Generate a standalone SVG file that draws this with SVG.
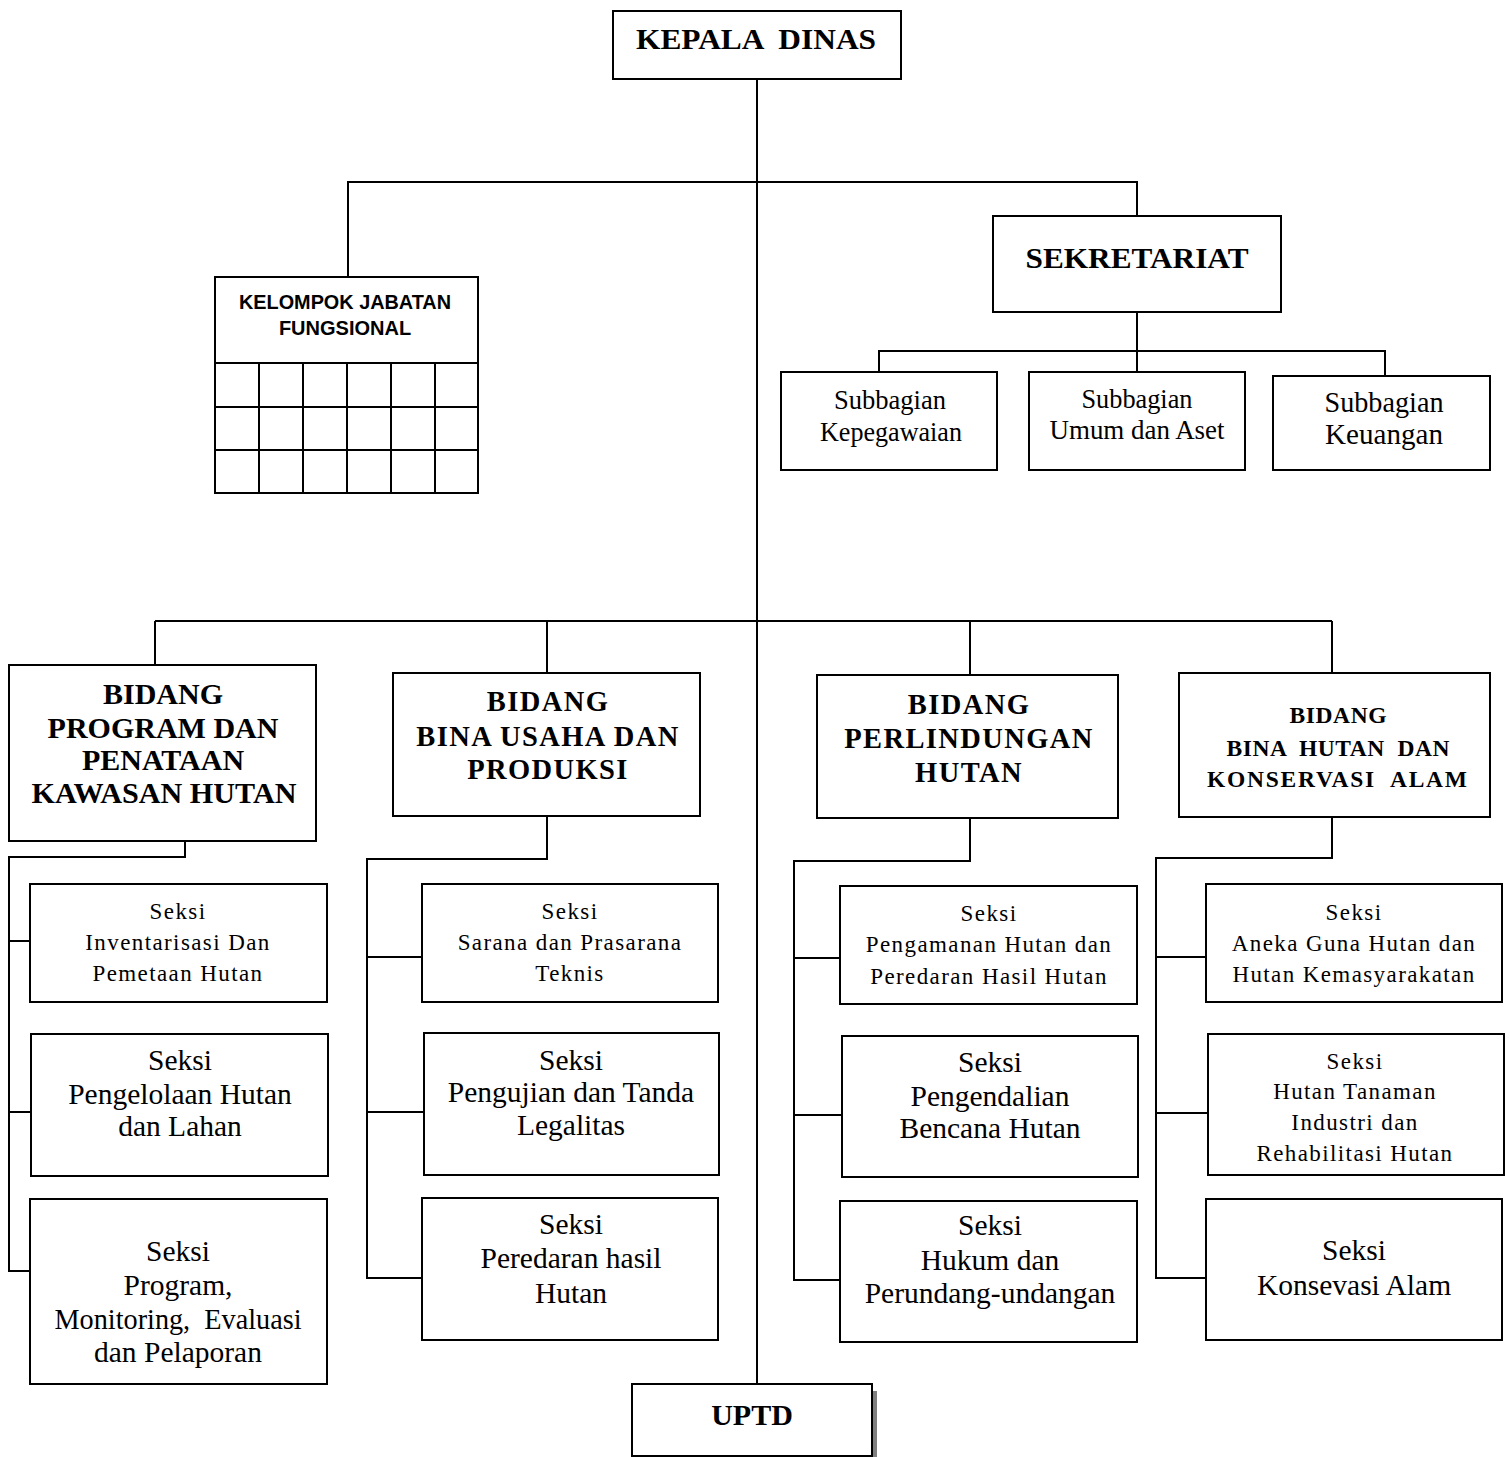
<svg xmlns="http://www.w3.org/2000/svg" width="1510" height="1457" viewBox="0 0 1510 1457">
  <style>
    .box { fill: #fff; stroke: #000; stroke-width: 2; }
    .wire { fill: none; stroke: #000; stroke-width: 2; }
    .t { font-family: "Liberation Serif", "Times New Roman", serif; text-anchor: middle; fill: #000; }
    .hb { font-weight: bold; font-size: 30px; }
    .b1 { font-weight: bold; font-size: 30px; }
    .b2 { font-weight: bold; font-size: 28.5px; letter-spacing: 1.4px; }
    .b4 { font-weight: bold; font-size: 23.5px; }
    .sm { font-size: 23px; letter-spacing: 1.4px; }
    .lg { font-size: 29.5px; }
    .sub { font-size: 28px; }
    .sub3 { font-size: 30px; }
    .sans { font-family: "Liberation Sans", Arial, sans-serif; font-weight: bold; font-size: 20px; text-anchor: middle; }
  </style>

  <!-- connectors -->
  <g id="connectors">
    <!-- trunk from the head down to UPTD -->
    <line class="wire" x1="757" y1="79" x2="757" y2="1384"/>
    <!-- staff level -->
    <polyline class="wire" points="348,277 348,182 1137,182 1137,216"/>
    <!-- secretariat to subsections -->
    <line class="wire" x1="1137" y1="312" x2="1137" y2="372"/>
    <polyline class="wire" points="879,372 879,351 1385,351 1385,376"/>
    <!-- division bus -->
    <line class="wire" x1="155" y1="621" x2="1332" y2="621"/>
    <line class="wire" x1="155" y1="621" x2="155" y2="665"/>
    <line class="wire" x1="547" y1="621" x2="547" y2="673"/>
    <line class="wire" x1="970" y1="621" x2="970" y2="675"/>
    <line class="wire" x1="1332" y1="621" x2="1332" y2="673"/>
    <!-- division 1 sections -->
    <polyline class="wire" points="185,841 185,857 9,857 9,1271 30,1271"/>
    <line class="wire" x1="9" y1="941" x2="30" y2="941"/>
    <line class="wire" x1="9" y1="1112" x2="31" y2="1112"/>
    <!-- division 2 sections -->
    <polyline class="wire" points="547,816 547,859 367,859 367,1278 422,1278"/>
    <line class="wire" x1="367" y1="957" x2="422" y2="957"/>
    <line class="wire" x1="367" y1="1112" x2="424" y2="1112"/>
    <!-- division 3 sections -->
    <polyline class="wire" points="970,818 970,861 794,861 794,1280 840,1280"/>
    <line class="wire" x1="794" y1="958" x2="840" y2="958"/>
    <line class="wire" x1="794" y1="1115" x2="842" y2="1115"/>
    <!-- division 4 sections -->
    <polyline class="wire" points="1332,817 1332,858 1156,858 1156,1278 1206,1278"/>
    <line class="wire" x1="1156" y1="957" x2="1206" y2="957"/>
    <line class="wire" x1="1156" y1="1113" x2="1208" y2="1113"/>
  </g>

  <!-- head -->
  <g id="kepala-dinas">
    <rect class="box" x="613" y="11" width="288" height="68"/>
    <text class="t hb" x="756" y="49" xml:space="preserve" textLength="240" lengthAdjust="spacingAndGlyphs">KEPALA  DINAS</text>
  </g>

  <!-- functional group with grid -->
  <g id="kelompok-jabatan-fungsional">
    <rect class="box" x="215" y="277" width="263" height="216"/>
    <path class="wire" d="M215 363H478M215 407H478M215 450H478M259 363V493M303 363V493M347 363V493M391 363V493M435 363V493"/>
    <text class="sans" x="345" y="309" textLength="212" lengthAdjust="spacingAndGlyphs">KELOMPOK JABATAN</text>
    <text class="sans" x="345" y="335">FUNGSIONAL</text>
  </g>

  <g id="sekretariat">
    <rect class="box" x="993" y="216" width="288" height="96"/>
    <text class="t hb" x="1137" y="268" font-size="32" textLength="223" lengthAdjust="spacingAndGlyphs">SEKRETARIAT</text>
  </g>

  <g id="subbagian-kepegawaian">
    <rect class="box" x="781" y="372" width="216" height="98"/>
    <text class="t sub" x="890" y="409" textLength="112" lengthAdjust="spacingAndGlyphs">Subbagian</text>
    <text class="t sub" x="891" y="441" textLength="142" lengthAdjust="spacingAndGlyphs">Kepegawaian</text>
  </g>
  <g id="subbagian-umum-aset">
    <rect class="box" x="1029" y="372" width="216" height="98"/>
    <text class="t sub" x="1137" y="408" textLength="111" lengthAdjust="spacingAndGlyphs">Subbagian</text>
    <text class="t sub" x="1137" y="439" textLength="175" lengthAdjust="spacingAndGlyphs">Umum dan Aset</text>
  </g>
  <g id="subbagian-keuangan">
    <rect class="box" x="1273" y="376" width="217" height="94"/>
    <text class="t sub3" x="1384" y="412" textLength="119" lengthAdjust="spacingAndGlyphs">Subbagian</text>
    <text class="t sub3" x="1384" y="444" textLength="118" lengthAdjust="spacingAndGlyphs">Keuangan</text>
  </g>

  <!-- divisions -->
  <g id="bidang-program">
    <rect class="box" x="9" y="665" width="307" height="176"/>
    <text class="t b1" x="163" y="704">BIDANG</text>
    <text class="t b1" x="163" y="738">PROGRAM DAN</text>
    <text class="t b1" x="163" y="770">PENATAAN</text>
    <text class="t b1" x="164" y="803" textLength="265" lengthAdjust="spacingAndGlyphs">KAWASAN HUTAN</text>
  </g>
  <g id="bidang-bina-usaha">
    <rect class="box" x="393" y="673" width="307" height="143"/>
    <text class="t b2" x="548" y="711">BIDANG</text>
    <text class="t b2" x="548" y="746">BINA USAHA DAN</text>
    <text class="t b2" x="548" y="779">PRODUKSI</text>
  </g>
  <g id="bidang-perlindungan">
    <rect class="box" x="817" y="675" width="301" height="143"/>
    <text class="t b2" x="969" y="714">BIDANG</text>
    <text class="t b2" x="969" y="748">PERLINDUNGAN</text>
    <text class="t b2" x="969" y="782">HUTAN</text>
  </g>
  <g id="bidang-bina-hutan">
    <rect class="box" x="1179" y="673" width="311" height="144"/>
    <text class="t b4" x="1338" y="723" textLength="97" lengthAdjust="spacing">BIDANG</text>
    <text class="t b4" x="1338" y="756" xml:space="preserve" textLength="223" lengthAdjust="spacing">BINA  HUTAN  DAN</text>
    <text class="t b4" x="1337" y="787" xml:space="preserve" textLength="260" lengthAdjust="spacing">KONSERVASI  ALAM</text>
  </g>

  <!-- sections, division 1 -->
  <g id="seksi-inventarisasi">
    <rect class="box" x="30" y="884" width="297" height="118"/>
    <text class="t sm" x="178" y="919">Seksi</text>
    <text class="t sm" x="178" y="950">Inventarisasi Dan</text>
    <text class="t sm" x="178" y="981">Pemetaan Hutan</text>
  </g>
  <g id="seksi-pengelolaan">
    <rect class="box" x="31" y="1034" width="297" height="142"/>
    <text class="t lg" x="180" y="1070">Seksi</text>
    <text class="t lg" x="180" y="1104">Pengelolaan Hutan</text>
    <text class="t lg" x="180" y="1136">dan Lahan</text>
  </g>
  <g id="seksi-program">
    <rect class="box" x="30" y="1199" width="297" height="185"/>
    <text class="t lg" x="178" y="1261">Seksi</text>
    <text class="t lg" x="178" y="1295">Program,</text>
    <text class="t lg" x="178" y="1329" xml:space="preserve" textLength="247" lengthAdjust="spacingAndGlyphs">Monitoring,  Evaluasi</text>
    <text class="t lg" x="178" y="1362">dan Pelaporan</text>
  </g>

  <!-- sections, division 2 -->
  <g id="seksi-sarana">
    <rect class="box" x="422" y="884" width="296" height="118"/>
    <text class="t sm" x="570" y="919">Seksi</text>
    <text class="t sm" x="570" y="950">Sarana dan Prasarana</text>
    <text class="t sm" x="570" y="981">Teknis</text>
  </g>
  <g id="seksi-pengujian">
    <rect class="box" x="424" y="1033" width="295" height="142"/>
    <text class="t lg" x="571" y="1070">Seksi</text>
    <text class="t lg" x="571" y="1102">Pengujian dan Tanda</text>
    <text class="t lg" x="571" y="1135">Legalitas</text>
  </g>
  <g id="seksi-peredaran">
    <rect class="box" x="422" y="1198" width="296" height="142"/>
    <text class="t lg" x="571" y="1234">Seksi</text>
    <text class="t lg" x="571" y="1268">Peredaran hasil</text>
    <text class="t lg" x="571" y="1303">Hutan</text>
  </g>

  <!-- sections, division 3 -->
  <g id="seksi-pengamanan">
    <rect class="box" x="840" y="886" width="297" height="118"/>
    <text class="t sm" x="989" y="921">Seksi</text>
    <text class="t sm" x="989" y="952">Pengamanan Hutan dan</text>
    <text class="t sm" x="989" y="984">Peredaran Hasil Hutan</text>
  </g>
  <g id="seksi-pengendalian">
    <rect class="box" x="842" y="1036" width="296" height="141"/>
    <text class="t lg" x="990" y="1072">Seksi</text>
    <text class="t lg" x="990" y="1106">Pengendalian</text>
    <text class="t lg" x="990" y="1138">Bencana Hutan</text>
  </g>
  <g id="seksi-hukum">
    <rect class="box" x="840" y="1201" width="297" height="141"/>
    <text class="t lg" x="990" y="1235">Seksi</text>
    <text class="t lg" x="990" y="1270">Hukum dan</text>
    <text class="t lg" x="990" y="1303">Perundang-undangan</text>
  </g>

  <!-- sections, division 4 -->
  <g id="seksi-aneka-guna">
    <rect class="box" x="1206" y="884" width="296" height="118"/>
    <text class="t sm" x="1354" y="920">Seksi</text>
    <text class="t sm" x="1354" y="951">Aneka Guna Hutan dan</text>
    <text class="t sm" x="1354" y="982">Hutan Kemasyarakatan</text>
  </g>
  <g id="seksi-hutan-tanaman">
    <rect class="box" x="1208" y="1034" width="296" height="141"/>
    <text class="t sm" x="1355" y="1069">Seksi</text>
    <text class="t sm" x="1355" y="1099">Hutan Tanaman</text>
    <text class="t sm" x="1355" y="1130">Industri dan</text>
    <text class="t sm" x="1355" y="1161">Rehabilitasi Hutan</text>
  </g>
  <g id="seksi-konservasi">
    <rect class="box" x="1206" y="1199" width="296" height="141"/>
    <text class="t lg" x="1354" y="1260">Seksi</text>
    <text class="t lg" x="1354" y="1295">Konsevasi Alam</text>
  </g>

  <!-- technical unit with drop shadow -->
  <g id="uptd">
    <rect x="872" y="1391" width="5" height="66" fill="#808080"/>
    <rect class="box" x="632" y="1384" width="240" height="72"/>
    <text class="t hb" x="752" y="1425" font-size="29">UPTD</text>
  </g>
</svg>
